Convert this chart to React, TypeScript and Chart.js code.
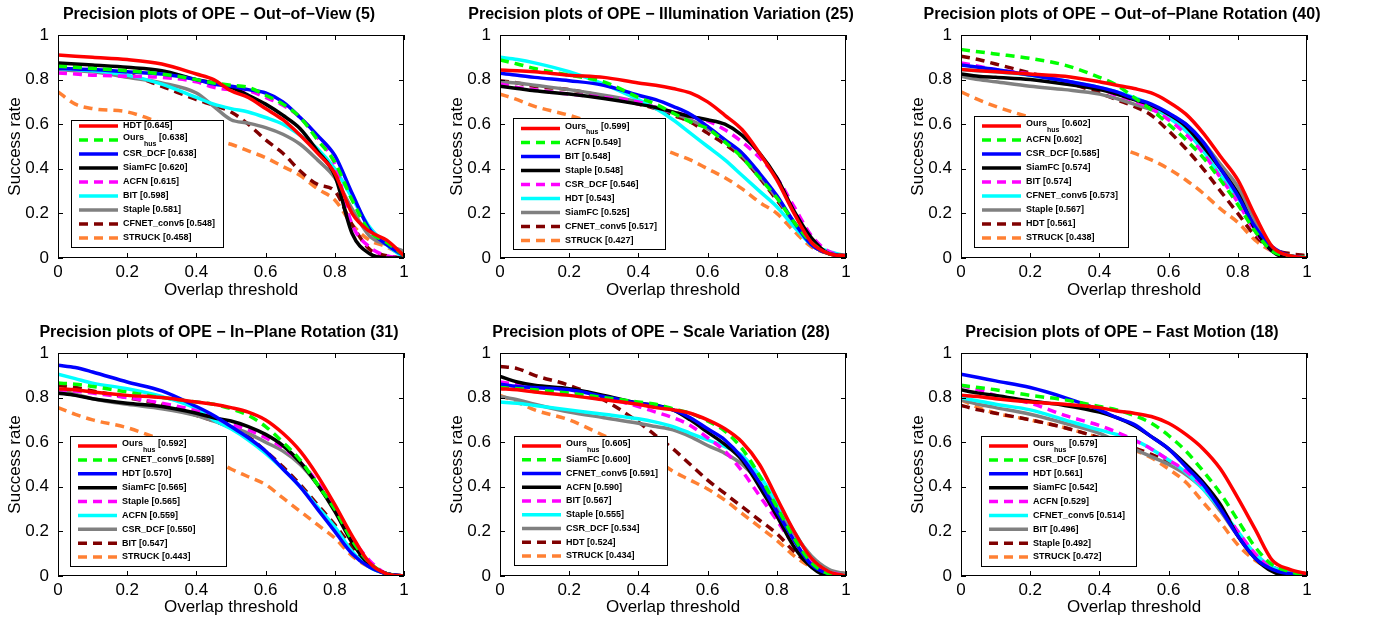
import React, { useEffect, useRef } from 'react';
import { Chart, registerables } from 'chart.js';

Chart.register(...registerables);
Chart.defaults.font.family = '"Liberation Sans", Arial, Helvetica, sans-serif';
Chart.defaults.color = '#000';

// ---------- shared axis data ----------
const X = [0, 0.05, 0.1, 0.2, 0.3, 0.4, 0.45, 0.5, 0.55, 0.6, 0.65, 0.7, 0.75, 0.8, 0.85, 0.9, 0.95, 1.0];
const TICK_VALUES = [0, 0.2, 0.4, 0.6, 0.8, 1];
const TICK_LABELS = ['0', '0.2', '0.4', '0.6', '0.8', '1'];
const X_TITLE = 'Overlap threshold';
const Y_TITLE = 'Success rate';

// ---------- styles by legend rank ----------
const RANK_COLORS = ['#ff0000', '#00ff00', '#0000ff', '#000000', '#ff00ff', '#00ffff', '#808080', '#800000', '#ff8033'];
const RANK_DASHED = [false, true, false, false, true, false, false, true, true];

// ---------- Plot 1: Out-of-View ----------
const OOV_TITLE = 'Precision plots of OPE \u2212 Out\u2212of\u2212View (5)';
const OOV_NAMES = ['HDT', 'Ours_{hus}', 'CSR_DCF', 'SiamFC', 'ACFN', 'BIT', 'Staple', 'CFNET_conv5', 'STRUCK'];
const OOV_SCORES = [0.645, 0.638, 0.638, 0.620, 0.615, 0.598, 0.581, 0.548, 0.458];
const OOV_HDT = [0.91, 0.905, 0.90, 0.89, 0.87, 0.825, 0.80, 0.75, 0.72, 0.67, 0.62, 0.55, 0.47, 0.38, 0.20, 0.12, 0.08, 0.01];
const OOV_OURS = [0.86, 0.855, 0.85, 0.84, 0.825, 0.80, 0.785, 0.775, 0.765, 0.73, 0.69, 0.63, 0.53, 0.43, 0.26, 0.12, 0.07, 0.01];
const OOV_CSR = [0.85, 0.848, 0.845, 0.835, 0.825, 0.80, 0.78, 0.77, 0.755, 0.74, 0.70, 0.63, 0.55, 0.46, 0.29, 0.13, 0.06, 0.01];
const OOV_SIAM = [0.875, 0.87, 0.865, 0.855, 0.84, 0.80, 0.785, 0.765, 0.73, 0.69, 0.64, 0.58, 0.48, 0.37, 0.11, 0.02, 0.0, 0.0];
const OOV_ACFN = [0.83, 0.825, 0.82, 0.815, 0.81, 0.79, 0.765, 0.755, 0.75, 0.72, 0.685, 0.63, 0.54, 0.42, 0.15, 0.05, 0.01, 0.0];
const OOV_BIT = [0.85, 0.845, 0.84, 0.82, 0.78, 0.72, 0.69, 0.67, 0.655, 0.63, 0.60, 0.55, 0.49, 0.40, 0.27, 0.14, 0.06, 0.0];
const OOV_STAPLE = [0.845, 0.84, 0.835, 0.81, 0.785, 0.74, 0.68, 0.62, 0.605, 0.585, 0.555, 0.51, 0.44, 0.36, 0.22, 0.10, 0.06, 0.03];
const OOV_CFNET = [0.865, 0.86, 0.85, 0.825, 0.77, 0.71, 0.685, 0.655, 0.60, 0.53, 0.47, 0.39, 0.33, 0.30, 0.15, 0.04, 0.01, 0.0];
const OOV_STRUCK = [0.745, 0.69, 0.67, 0.655, 0.605, 0.555, 0.53, 0.51, 0.48, 0.45, 0.41, 0.37, 0.31, 0.26, 0.15, 0.08, 0.05, 0.01];

// ---------- Plot 2: Illumination Variation ----------
const IV_TITLE = 'Precision plots of OPE \u2212 Illumination Variation (25)';
const IV_NAMES = ['Ours_{hus}', 'ACFN', 'BIT', 'Staple', 'CSR_DCF', 'HDT', 'SiamFC', 'CFNET_conv5', 'STRUCK'];
const IV_SCORES = [0.599, 0.549, 0.548, 0.548, 0.546, 0.543, 0.525, 0.517, 0.427];
const IV_OURS = [0.843, 0.84, 0.835, 0.82, 0.81, 0.785, 0.775, 0.76, 0.74, 0.70, 0.64, 0.575, 0.47, 0.35, 0.20, 0.07, 0.02, 0.01];
const IV_ACFN = [0.888, 0.87, 0.85, 0.82, 0.79, 0.72, 0.69, 0.65, 0.61, 0.58, 0.52, 0.45, 0.36, 0.27, 0.16, 0.07, 0.02, 0.01];
const IV_BIT = [0.828, 0.82, 0.81, 0.795, 0.775, 0.73, 0.71, 0.68, 0.645, 0.59, 0.53, 0.47, 0.38, 0.28, 0.16, 0.06, 0.02, 0.01];
const IV_STAPLE = [0.77, 0.76, 0.75, 0.735, 0.715, 0.69, 0.675, 0.655, 0.635, 0.62, 0.60, 0.55, 0.47, 0.36, 0.21, 0.09, 0.02, 0.01];
const IV_CSR = [0.78, 0.765, 0.755, 0.735, 0.72, 0.70, 0.675, 0.655, 0.635, 0.615, 0.575, 0.52, 0.45, 0.36, 0.23, 0.10, 0.03, 0.01];
const IV_HDT = [0.90, 0.89, 0.875, 0.835, 0.78, 0.71, 0.67, 0.62, 0.56, 0.50, 0.44, 0.37, 0.30, 0.23, 0.14, 0.06, 0.03, 0.01];
const IV_SIAM = [0.79, 0.785, 0.775, 0.755, 0.73, 0.70, 0.675, 0.65, 0.62, 0.58, 0.53, 0.46, 0.37, 0.27, 0.16, 0.06, 0.02, 0.01];
const IV_CFNET = [0.795, 0.785, 0.77, 0.755, 0.725, 0.69, 0.67, 0.64, 0.61, 0.56, 0.51, 0.45, 0.36, 0.26, 0.16, 0.06, 0.02, 0.01];
const IV_STRUCK = [0.735, 0.71, 0.68, 0.64, 0.59, 0.53, 0.50, 0.47, 0.44, 0.40, 0.36, 0.31, 0.25, 0.20, 0.12, 0.05, 0.02, 0.01];

// ---------- Plot 3: Out-of-Plane Rotation ----------
const OPR_TITLE = 'Precision plots of OPE \u2212 Out\u2212of\u2212Plane Rotation (40)';
const OPR_NAMES = ['Ours_{hus}', 'ACFN', 'CSR_DCF', 'SiamFC', 'BIT', 'CFNET_conv5', 'Staple', 'HDT', 'STRUCK'];
const OPR_SCORES = [0.602, 0.602, 0.585, 0.574, 0.574, 0.573, 0.567, 0.561, 0.438];
const OPR_OURS = [0.845, 0.84, 0.835, 0.825, 0.815, 0.79, 0.775, 0.76, 0.74, 0.70, 0.645, 0.56, 0.455, 0.35, 0.19, 0.05, 0.01, 0.0];
const OPR_ACFN = [0.935, 0.925, 0.915, 0.895, 0.865, 0.81, 0.775, 0.72, 0.665, 0.60, 0.53, 0.45, 0.35, 0.24, 0.12, 0.03, 0.01, 0.0];
const OPR_CSR = [0.865, 0.855, 0.845, 0.82, 0.795, 0.765, 0.745, 0.715, 0.69, 0.65, 0.60, 0.52, 0.40, 0.28, 0.14, 0.05, 0.01, 0.0];
const OPR_SIAM = [0.825, 0.815, 0.81, 0.80, 0.78, 0.755, 0.735, 0.71, 0.685, 0.645, 0.59, 0.50, 0.40, 0.29, 0.13, 0.03, 0.0, 0.0];
const OPR_BIT = [0.875, 0.86, 0.845, 0.825, 0.795, 0.76, 0.73, 0.705, 0.67, 0.62, 0.555, 0.47, 0.36, 0.25, 0.12, 0.03, 0.01, 0.0];
const OPR_CFNET = [0.845, 0.84, 0.835, 0.82, 0.795, 0.765, 0.745, 0.72, 0.685, 0.63, 0.57, 0.48, 0.37, 0.27, 0.13, 0.03, 0.01, 0.0];
const OPR_STAPLE = [0.815, 0.80, 0.79, 0.77, 0.755, 0.735, 0.715, 0.69, 0.665, 0.64, 0.60, 0.52, 0.42, 0.32, 0.16, 0.04, 0.01, 0.0];
const OPR_HDT = [0.905, 0.89, 0.87, 0.83, 0.79, 0.74, 0.71, 0.68, 0.64, 0.57, 0.49, 0.40, 0.30, 0.20, 0.10, 0.04, 0.02, 0.01];
const OPR_STRUCK = [0.745, 0.71, 0.68, 0.63, 0.58, 0.53, 0.50, 0.47, 0.44, 0.40, 0.35, 0.29, 0.22, 0.16, 0.08, 0.03, 0.01, 0.0];

// ---------- Plot 4: In-Plane Rotation ----------
const IPR_TITLE = 'Precision plots of OPE \u2212 In\u2212Plane Rotation (31)';
const IPR_NAMES = ['Ours_{hus}', 'CFNET_conv5', 'HDT', 'SiamFC', 'Staple', 'ACFN', 'CSR_DCF', 'BIT', 'STRUCK'];
const IPR_SCORES = [0.592, 0.589, 0.570, 0.565, 0.565, 0.559, 0.550, 0.547, 0.443];
const IPR_OURS = [0.84, 0.835, 0.825, 0.81, 0.80, 0.78, 0.77, 0.755, 0.735, 0.70, 0.64, 0.56, 0.45, 0.32, 0.18, 0.06, 0.01, 0.0];
const IPR_CFNET = [0.865, 0.86, 0.85, 0.825, 0.80, 0.78, 0.77, 0.75, 0.72, 0.67, 0.60, 0.52, 0.41, 0.30, 0.16, 0.06, 0.01, 0.0];
const IPR_HDT = [0.945, 0.935, 0.915, 0.87, 0.83, 0.76, 0.72, 0.67, 0.62, 0.56, 0.48, 0.40, 0.30, 0.20, 0.10, 0.04, 0.01, 0.0];
const IPR_SIAM = [0.82, 0.81, 0.795, 0.775, 0.76, 0.73, 0.71, 0.695, 0.67, 0.635, 0.585, 0.51, 0.41, 0.29, 0.15, 0.05, 0.01, 0.0];
const IPR_STAPLE = [0.835, 0.83, 0.82, 0.80, 0.775, 0.74, 0.71, 0.68, 0.655, 0.62, 0.575, 0.51, 0.42, 0.30, 0.17, 0.07, 0.01, 0.0];
const IPR_ACFN = [0.905, 0.885, 0.865, 0.84, 0.805, 0.75, 0.70, 0.66, 0.61, 0.55, 0.48, 0.40, 0.31, 0.22, 0.11, 0.04, 0.01, 0.0];
const IPR_CSR = [0.835, 0.815, 0.795, 0.77, 0.75, 0.72, 0.695, 0.67, 0.64, 0.60, 0.56, 0.50, 0.41, 0.30, 0.16, 0.05, 0.01, 0.0];
const IPR_BIT = [0.855, 0.845, 0.83, 0.80, 0.77, 0.72, 0.695, 0.665, 0.625, 0.56, 0.49, 0.41, 0.32, 0.23, 0.13, 0.05, 0.01, 0.0];
const IPR_STRUCK = [0.755, 0.725, 0.70, 0.665, 0.61, 0.55, 0.52, 0.48, 0.445, 0.41, 0.35, 0.29, 0.23, 0.17, 0.09, 0.04, 0.01, 0.0];

// ---------- Plot 5: Scale Variation ----------
const SV_TITLE = 'Precision plots of OPE \u2212 Scale Variation (28)';
const SV_NAMES = ['Ours_{hus}', 'SiamFC', 'CFNET_conv5', 'ACFN', 'BIT', 'Staple', 'CSR_DCF', 'HDT', 'STRUCK'];
const SV_SCORES = [0.605, 0.600, 0.591, 0.590, 0.567, 0.555, 0.534, 0.524, 0.434];
const SV_OURS = [0.84, 0.835, 0.825, 0.81, 0.79, 0.77, 0.755, 0.745, 0.73, 0.70, 0.66, 0.60, 0.50, 0.35, 0.20, 0.08, 0.02, 0.0];
const SV_SIAM = [0.845, 0.84, 0.835, 0.82, 0.80, 0.78, 0.77, 0.75, 0.73, 0.695, 0.65, 0.57, 0.45, 0.31, 0.17, 0.06, 0.01, 0.0];
const SV_CFNET = [0.86, 0.85, 0.845, 0.835, 0.805, 0.775, 0.765, 0.745, 0.71, 0.66, 0.61, 0.53, 0.42, 0.29, 0.16, 0.05, 0.01, 0.0];
const SV_ACFN = [0.895, 0.87, 0.855, 0.84, 0.81, 0.775, 0.765, 0.745, 0.70, 0.645, 0.59, 0.52, 0.40, 0.27, 0.13, 0.04, 0.0, 0.0];
const SV_BIT = [0.87, 0.86, 0.85, 0.83, 0.80, 0.76, 0.735, 0.71, 0.675, 0.62, 0.56, 0.47, 0.36, 0.25, 0.14, 0.06, 0.02, 0.0];
const SV_STAPLE = [0.78, 0.775, 0.765, 0.745, 0.725, 0.705, 0.69, 0.67, 0.64, 0.61, 0.58, 0.54, 0.45, 0.33, 0.20, 0.08, 0.02, 0.0];
const SV_CSR = [0.805, 0.79, 0.77, 0.735, 0.71, 0.685, 0.67, 0.655, 0.625, 0.585, 0.55, 0.50, 0.42, 0.31, 0.19, 0.09, 0.03, 0.01];
const SV_HDT = [0.94, 0.93, 0.90, 0.855, 0.79, 0.69, 0.63, 0.57, 0.50, 0.43, 0.37, 0.31, 0.25, 0.19, 0.11, 0.05, 0.02, 0.01];
const SV_STRUCK = [0.81, 0.78, 0.745, 0.70, 0.63, 0.56, 0.52, 0.47, 0.43, 0.39, 0.34, 0.28, 0.22, 0.16, 0.09, 0.04, 0.02, 0.01];

// ---------- Plot 6: Fast Motion ----------
const FM_TITLE = 'Precision plots of OPE \u2212 Fast Motion (18)';
const FM_NAMES = ['Ours_{hus}', 'CSR_DCF', 'HDT', 'SiamFC', 'ACFN', 'CFNET_conv5', 'BIT', 'Staple', 'STRUCK'];
const FM_SCORES = [0.579, 0.576, 0.561, 0.542, 0.529, 0.514, 0.496, 0.492, 0.472];
const FM_OURS = [0.81, 0.805, 0.795, 0.78, 0.77, 0.755, 0.74, 0.73, 0.715, 0.685, 0.635, 0.57, 0.48, 0.35, 0.21, 0.07, 0.03, 0.01];
const FM_CSR = [0.855, 0.845, 0.835, 0.81, 0.79, 0.76, 0.745, 0.72, 0.685, 0.63, 0.56, 0.47, 0.37, 0.25, 0.13, 0.05, 0.02, 0.0];
const FM_HDT = [0.905, 0.89, 0.875, 0.845, 0.80, 0.745, 0.71, 0.68, 0.625, 0.57, 0.49, 0.41, 0.30, 0.18, 0.08, 0.03, 0.01, 0.0];
const FM_SIAM = [0.835, 0.82, 0.81, 0.785, 0.765, 0.735, 0.71, 0.675, 0.625, 0.57, 0.50, 0.42, 0.32, 0.18, 0.08, 0.02, 0.0, 0.0];
const FM_ACFN = [0.855, 0.835, 0.81, 0.775, 0.72, 0.675, 0.645, 0.61, 0.57, 0.52, 0.47, 0.40, 0.31, 0.20, 0.10, 0.03, 0.0, 0.0];
const FM_CFNET = [0.80, 0.785, 0.77, 0.745, 0.70, 0.655, 0.635, 0.61, 0.57, 0.52, 0.465, 0.39, 0.30, 0.20, 0.10, 0.04, 0.01, 0.0];
const FM_BIT = [0.79, 0.77, 0.755, 0.725, 0.685, 0.64, 0.605, 0.57, 0.535, 0.50, 0.455, 0.39, 0.29, 0.18, 0.09, 0.04, 0.02, 0.01];
const FM_STAPLE = [0.765, 0.745, 0.73, 0.70, 0.665, 0.62, 0.595, 0.575, 0.545, 0.51, 0.46, 0.40, 0.30, 0.19, 0.09, 0.04, 0.02, 0.01];
const FM_STRUCK = [0.79, 0.755, 0.73, 0.70, 0.665, 0.62, 0.595, 0.565, 0.53, 0.48, 0.42, 0.33, 0.24, 0.14, 0.07, 0.03, 0.01, 0.0];

// ---------- panel layout ----------
const CANVAS_W = 438;
const Y_AXIS_W = 58;
const RIGHT_W = 34;
const AREA_H = 223;
const TITLE_BLOCK = 35;

const PANELS = [
  { title: OOV_TITLE, names: OOV_NAMES, scores: OOV_SCORES, series: [OOV_HDT, OOV_OURS, OOV_CSR, OOV_SIAM, OOV_ACFN, OOV_BIT, OOV_STAPLE, OOV_CFNET, OOV_STRUCK], left: 0, top: 0, height: 305, xPadBottom: 4, legend: { dx: 13, dy: 85, w: 152, h: 127, padTop: 6, padBottom: 9 } },
  { title: IV_TITLE, names: IV_NAMES, scores: IV_SCORES, series: [IV_OURS, IV_ACFN, IV_BIT, IV_STAPLE, IV_CSR, IV_HDT, IV_SIAM, IV_CFNET, IV_STRUCK], left: 442, top: 0, height: 305, xPadBottom: 4, legend: { dx: 13, dy: 83, w: 152, h: 131, padTop: 10.5, padBottom: 8.5 } },
  { title: OPR_TITLE, names: OPR_NAMES, scores: OPR_SCORES, series: [OPR_OURS, OPR_ACFN, OPR_CSR, OPR_SIAM, OPR_BIT, OPR_CFNET, OPR_STAPLE, OPR_HDT, OPR_STRUCK], left: 903, top: 0, height: 305, xPadBottom: 4, legend: { dx: 13, dy: 81, w: 154, h: 131, padTop: 10, padBottom: 9 } },
  { title: IPR_TITLE, names: IPR_NAMES, scores: IPR_SCORES, series: [IPR_OURS, IPR_CFNET, IPR_HDT, IPR_SIAM, IPR_STAPLE, IPR_ACFN, IPR_CSR, IPR_BIT, IPR_STRUCK], left: 0, top: 318, height: 301, xPadBottom: 1, legend: { dx: 12, dy: 83, w: 156, h: 130, padTop: 10, padBottom: 9 } },
  { title: SV_TITLE, names: SV_NAMES, scores: SV_SCORES, series: [SV_OURS, SV_SIAM, SV_CFNET, SV_ACFN, SV_BIT, SV_STAPLE, SV_CSR, SV_HDT, SV_STRUCK], left: 442, top: 318, height: 301, xPadBottom: 1, legend: { dx: 14, dy: 83, w: 153, h: 129, padTop: 10, padBottom: 9 } },
  { title: FM_TITLE, names: FM_NAMES, scores: FM_SCORES, series: [FM_OURS, FM_CSR, FM_HDT, FM_SIAM, FM_ACFN, FM_CFNET, FM_BIT, FM_STAPLE, FM_STRUCK], left: 903, top: 318, height: 301, xPadBottom: 1, legend: { dx: 20, dy: 83, w: 155, h: 130, padTop: 10, padBottom: 9 } },
];

const FONT = '"Liberation Sans", Arial, Helvetica, sans-serif';

// frame with inward tick marks on all four sides (MATLAB box style)
const framePlugin = {
  id: 'matFrame',
  afterDraw(chart: any) {
    const { ctx, chartArea: a, scales } = chart;
    ctx.save();
    ctx.setLineDash([]);
    ctx.strokeStyle = '#000';
    ctx.lineWidth = 1;
    ctx.strokeRect(a.left + 0.5, a.top + 0.5, a.right - a.left - 1, a.bottom - a.top - 1);
    const T = 5;
    ctx.beginPath();
    for (const v of TICK_VALUES) {
      const px = Math.round(scales.x.getPixelForValue(v)) + 0.5;
      ctx.moveTo(px, a.bottom);
      ctx.lineTo(px, a.bottom - T);
      ctx.moveTo(px, a.top);
      ctx.lineTo(px, a.top + T);
      const py = Math.round(scales.y.getPixelForValue(v)) + 0.5;
      ctx.moveTo(a.left, py);
      ctx.lineTo(a.left + T, py);
      ctx.moveTo(a.right, py);
      ctx.lineTo(a.right - T, py);
    }
    ctx.stroke();
    ctx.restore();
  },
};

function splitLabel(label: string) {
  const parts: { text: string; sub: boolean }[] = [];
  const re = /_\{([^}]*)\}/g;
  let last = 0;
  let m: RegExpExecArray | null;
  while ((m = re.exec(label))) {
    if (m.index > last) parts.push({ text: label.slice(last, m.index), sub: false });
    parts.push({ text: m[1], sub: true });
    last = m.index + m[0].length;
  }
  if (last < label.length) parts.push({ text: label.slice(last), sub: false });
  return parts;
}

// boxed legend inside the axes
const legendPlugin = {
  id: 'boxLegend',
  afterDraw(chart: any, _args: any, opts: any) {
    const { ctx, chartArea: a } = chart;
    const L = a.left + opts.dx;
    const T = a.top + opts.dy;
    ctx.save();
    ctx.fillStyle = '#fff';
    ctx.fillRect(L, T, opts.w, opts.h);
    ctx.strokeStyle = '#000';
    ctx.lineWidth = 1;
    ctx.setLineDash([]);
    ctx.strokeRect(L + 0.5, T + 0.5, opts.w, opts.h);
    const ds = chart.data.datasets;
    const step = (opts.h - opts.padTop - opts.padBottom) / (ds.length - 1);
    ds.forEach((d: any, i: number) => {
      const y = T + opts.padTop + i * step;
      ctx.beginPath();
      ctx.strokeStyle = d.borderColor;
      ctx.lineWidth = d.borderWidth;
      ctx.setLineDash(d.borderDash || []);
      ctx.moveTo(L + 8, y);
      ctx.lineTo(L + 47, y);
      ctx.stroke();
      ctx.setLineDash([]);
      const parts = splitLabel(d.label);
      const hasSub = parts.some((p) => p.sub);
      let x = L + 52;
      ctx.fillStyle = '#000';
      ctx.textBaseline = 'middle';
      ctx.textAlign = 'left';
      for (const p of parts) {
        ctx.font = p.sub ? `bold 7px ${FONT}` : `bold 9px ${FONT}`;
        const ty = p.sub ? y + 4 : hasSub ? y - 2 : y;
        ctx.fillText(p.text, x, ty);
        x += ctx.measureText(p.text).width;
      }
    });
    ctx.restore();
  },
};

function Panel({ panel }: { panel: (typeof PANELS)[number] }) {
  const ref = useRef<HTMLCanvasElement>(null);
  useEffect(() => {
    const xAxisH = panel.height - TITLE_BLOCK - AREA_H;
    const datasets = panel.series.map((vals, i) => ({
      label: `${panel.names[i]} [${panel.scores[i].toFixed(3)}]`,
      data: X.map((x, j) => ({ x, y: vals[j] })),
      borderColor: RANK_COLORS[i],
      backgroundColor: RANK_COLORS[i],
      borderWidth: 3.5,
      borderDash: RANK_DASHED[i] ? [9, 6] : [],
      pointRadius: 0,
      fill: false,
      cubicInterpolationMode: 'monotone' as const,
    }));
    const tickCfg = {
      font: { size: 17 },
      color: '#000',
      autoSkip: false,
      maxRotation: 0,
      callback: (_v: any, idx: number) => TICK_LABELS[idx],
    };
    const chart = new Chart(ref.current as HTMLCanvasElement, {
      type: 'line',
      data: { datasets },
      plugins: [framePlugin, legendPlugin],
      options: {
        responsive: false,
        animation: false,
        layout: { padding: 0 },
        events: [],
        plugins: {
          legend: { display: false },
          tooltip: { enabled: false },
          title: {
            display: true,
            text: panel.title,
            color: '#000',
            font: { size: 16, weight: 'bold', lineHeight: 1.25 },
            padding: { top: 5, bottom: 10 },
          },
          boxLegend: panel.legend,
        } as any,
        scales: {
          x: {
            type: 'linear',
            min: 0,
            max: 1,
            afterBuildTicks: (s: any) => {
              s.ticks = TICK_VALUES.map((value) => ({ value }));
            },
            afterFit: (s: any) => {
              s.height = xAxisH;
            },
            ticks: { ...tickCfg, padding: 4 },
            grid: { display: false, drawTicks: false },
            border: { display: false },
            title: { display: true, text: X_TITLE, color: '#000', font: { size: 17 }, padding: { top: 0, bottom: panel.xPadBottom } },
          },
          y: {
            type: 'linear',
            min: 0,
            max: 1,
            afterBuildTicks: (s: any) => {
              s.ticks = TICK_VALUES.map((value) => ({ value }));
            },
            afterFit: (s: any) => {
              s.width = Y_AXIS_W;
            },
            ticks: { ...tickCfg, padding: 9 },
            grid: { display: false, drawTicks: false },
            border: { display: false },
            title: { display: true, text: Y_TITLE, color: '#000', font: { size: 17 }, padding: { top: 5, bottom: 0 } },
          },
          yR: {
            type: 'linear',
            position: 'right',
            display: true,
            min: 0,
            max: 1,
            ticks: { display: false },
            grid: { display: false, drawTicks: false },
            border: { display: false },
            afterFit: (s: any) => {
              s.width = RIGHT_W;
            },
          },
        } as any,
      },
    });
    return () => chart.destroy();
  }, [panel]);
  return (
    <canvas
      ref={ref}
      width={CANVAS_W}
      height={panel.height}
      style={{ position: 'absolute', left: panel.left, top: panel.top, width: CANVAS_W, height: panel.height }}
    />
  );
}

export default function App() {
  return (
    <div style={{ position: 'absolute', left: 0, top: 0, width: 1380, height: 619, background: '#fff', overflow: 'hidden' }}>
      {PANELS.map((p, i) => (
        <Panel key={i} panel={p} />
      ))}
    </div>
  );
}
